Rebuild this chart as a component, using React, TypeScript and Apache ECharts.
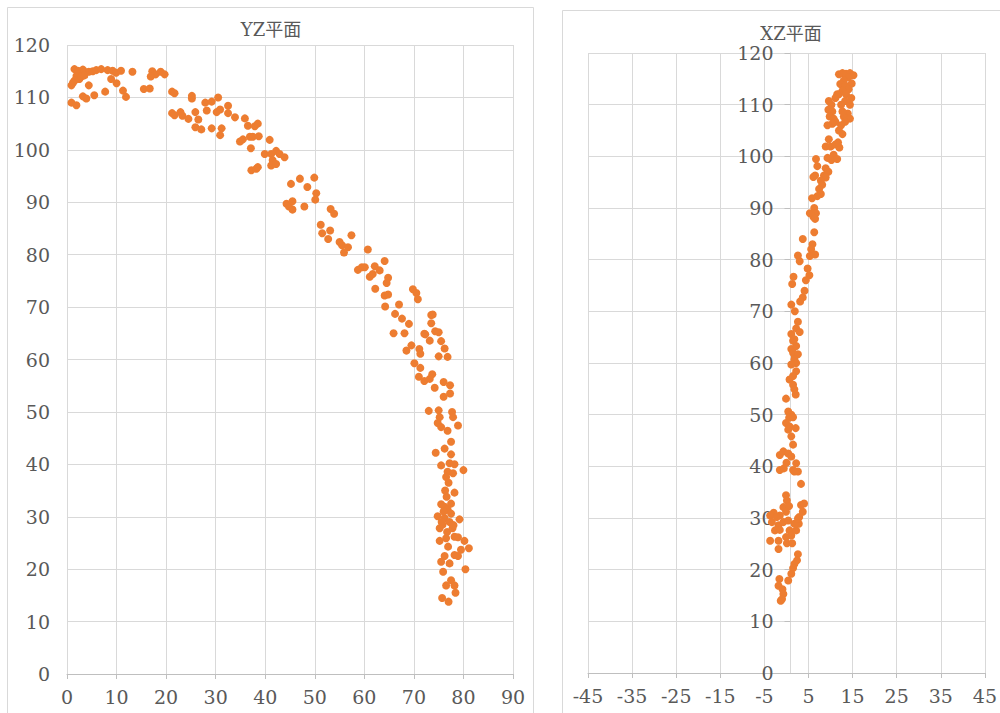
import React, { useEffect, useRef } from "react";
import * as echarts from "echarts";

const leftTitle = "YZ平面";
const rightTitle = "XZ平面";

// YZ plane points: [Y, Z]
const yzPoints: [number, number][] = [
  [1.5,115.4],[2.2,115.1],[3.2,115.3],[3.5,114.9],[4.4,114.9],[5.2,115],[5.9,115.2],[6.9,115.4],[8.2,115.2],[9.2,115.1],[9.9,114.7],[10.9,115.1],[13.2,114.9],
  [1.9,114.1],[2.5,113.5],[1.5,113.2],[1.2,112.8],[0.9,112.3],[2.9,114],[3.5,114.2],[4.4,112.3],[8.9,113.5],[10,112.7],[7.7,111.1],[5.5,110.4],[3.2,110.2],[3.9,109.8],[0.9,109],[1.9,108.5],[11.3,111.3],[11.9,110.1],[15.5,111.6],[16.7,111.7],[17.2,115],[17.9,114.4],[16.9,114],[18.9,114.9],[19.7,114.4],
  [21.2,111.1],[21.7,110.8],[25.2,110.3],[25.2,109.8],[21.2,107],[21.7,106.6],[22.9,107.2],[23.3,106.5],[24.5,105.9],[25.9,107.2],[26.5,105.8],[25.9,104.3],[27.1,103.9],[27.9,109],[29.2,109.2],[30.5,110],[28.2,107.5],[30.2,107.2],[30.9,107.7],[32.5,108.4],[32.5,107],[33.9,106.2],[29.2,104.1],[31.2,104.1],[30.9,102.8],[35.9,106],[36.5,104.6],[37.9,104.5],[38.5,105],[34.9,101.6],[35.5,102],[36.9,102.5],[37.5,102.5],[38.7,102.6],[37.1,100.3],[40.9,101.9],[39.9,99.2],[41.2,99.2],[42.2,99.8],[42.9,99.2],[43.9,98.6],[41.5,98],[41.2,97],[42.2,97.3],[37.2,96.1],[38.2,96.4],[38.5,96.7],
  [45.2,93.5],[47,94.5],[48.5,92.9],[49.9,94.7],[50.3,91.7],[50.1,90.5],[44.3,89.7],[44.8,89.2],[45.5,88.6],[45.5,90.2],[47.9,89.2],[53.2,88.7],[53.9,87.8],[51.2,85.7],[51.5,84.1],[52.7,83],[53.1,84.6],[55,82.4],[55.5,81.8],[56.7,81.4],[55.9,80.4],[57.4,83.7],[60.7,81],[58.7,77.1],[59.5,77.6],[60.1,77.6],[62.1,77.8],[63.1,77],[64.1,78.8],[61.1,75.8],[61.7,76.3],[62.2,73.5],[64.8,75.6],[64.5,74.6],[64.1,72.2],[64.8,72.4],[64.2,70.1],[67,70.5],[69.8,73.4],[70.5,72.7],[70.8,71.5],[66.2,68.7],[67.6,67.8],[69,66.8],[65.9,65],[68.1,65],[73.5,68.5],[73.5,66.9],[72.1,64.9],[73.2,63.6],[74.3,65.4],[68.5,61.7],[69.5,62.7],[71.1,62],[71.3,61.1],
  [72.3,64.8],[73.8,68.6],[75,65.2],[75.5,63.5],[76.2,62.1],[75,60.6],[76.8,60.5],[70.1,59.3],[71.3,58.4],[71,56.7],[72.1,55.9],[73.2,56.3],[73.7,57.2],[74.2,54.6],[76,55.7],[77.3,55.1],[76,52.9],[77.3,53.5],[73,50.2],[75,50.3],[77.7,50],[77.9,49],[75.2,49],[74.8,47.9],[75.5,47.1],[76.8,46.4],[78.9,47.4],[77.5,44.3],[76.2,43],[77.5,41.9],[74.4,42.2],[75.5,39.8],[77.2,40.2],[78.2,40],[76.8,38.6],[76.5,37.6],[77.9,38.3],[80,38.9],[77,36.5],[78.2,34.6],[76.6,33.8],[75.5,32.4],[76.2,31.9],[76.8,31.4],[77.5,30.6],[74.8,30.1],[76.2,29.7],[77.2,29],[79.2,29.5],[75.2,27.8],[76.7,27.1],[77.8,27.8],[78.2,26.2],[76.5,25.9],[75.2,25.4],[78.9,26.1],[80.2,25.4],[81.1,24],[79.5,23.7],[78.9,22.5],[78.2,22.7],[77.2,21.1],[76.2,22.5],[75.5,21.4],[80.4,20],[75.9,19.5],[77.5,17.9],[78.2,16.9],[76.5,16.9],[78.4,15.5],[75.7,14.5],[77,13.8],
  [76,31],[75.8,28.5],[77.5,32.5],[76.3,35],[75.6,29],[78,28.4],[76.9,24.3]
];

// XZ plane points: [X, Z]
const xzPoints: [number, number][] = [
  [11.9,115.9],[12.7,116.1],[13.5,116],[14.4,116.1],[15.2,115.7],[14.1,115.3],[13,114.7],[12.2,114],[13.3,113.7],[14.8,114.1],[14.1,113],[12.7,112.7],[11.9,112],[13.5,112],[14.7,111.3],[13.3,110.7],[14.4,110],[12.4,110],[11.5,112],[11.1,111.3],[13.9,108.3],[13,107.7],[14.4,107.3],[13.3,106.7],[12.4,106],[11.1,106.7],[11.9,105],[12.7,104.3],[12.7,108.7],
  [9.6,110.7],[10.2,110],[9.5,109],[10.4,108.7],[9.8,107.7],[10.7,107.3],[10.4,106.3],[9.3,106],[9.6,103.3],[8.9,101.9],[10,101.9],[11.1,102.3],[12,101.7],[11.7,102.7],[10.7,100.3],[10.2,99.3],[11.5,99.5],[9.3,99.7],
  [6.7,99.5],[7,98.1],[8.9,97.7],[9.5,97],[8.5,96.3],[8.9,95.9],[7.8,95.3],[6.5,96.3],[6.1,96],[8.1,94.5],[7.4,93.7],[7.8,92.7],[7,92.3],[5.8,91.9],[5.3,89],[6.3,90],[6.7,89],[6.1,88.3],[6.5,87.9],[6.3,85.3],[3.7,84],[5.9,83],[5.6,82],[6.5,81],[5.3,80.7],[2.6,80.8],[3,79.7],[4.8,78.3],[5.2,77],[4.4,76],[1.6,76.7],[1.3,75.3],[4.1,74],[3.7,72.7],[3.1,71.9],[1.1,71.3],[1.9,70],[2.6,68],[2.2,66.7],[3,66],[1.5,64.3],[1.1,62.7],[1.9,61.3],[2.2,60],
  [1.1,65.6],[1.8,64.6],[2.2,63.3],[1.5,62],[2.6,61.7],[1.8,60.7],[1.1,59.7],[2.2,58.4],[1.5,57.5],[0.7,56.8],[1.5,55.8],[1.8,54.9],[2.1,53.9],[-0.1,53.1],
  [0.4,50.6],[1.1,50],[0.6,49.4],[1.5,49.5],[-0.1,48.4],[0.7,47.7],[0.4,47.1],[2.1,47.4],[1.1,45.8],[1.5,44.2],
  [-1.5,42.2],[-0.7,42.9],[0.4,42.5],[1.1,41.9],[0,40.7],[-1.5,39.3],[-0.6,39.6],[1.5,39.3],[2.2,40.6],[2.6,39],[3.3,36.6],[1.8,39],
  [-0.1,34.4],[0.1,33.4],[-0.7,32.1],[0.6,32.3],[-0.1,31.2],[-1.5,30.5],[-2.9,31],[-3.7,30.5],[-2.2,30.2],[-3.3,29.2],[-1.8,28.6],[-0.7,29.2],[0.4,29.5],[-2.6,27.6],[-1.5,27.7],[0.7,27.6],[-0.1,26.3],[1.1,26.6],[2.2,27.6],[2.8,28.9],[2.9,30.2],[3.7,31.2],[3.3,32.5],[4,32.8],[1.8,28.9],[2.6,29.9],[-3.7,25.6],[-1.8,25.6],[-1.8,24],[0.1,25.1],[1.3,25.1],[2.6,23],[2.4,21.8],[1.8,21.1],[1.5,20.3],[1.1,19.2],[0.4,17.9],[-1.6,18.2],[-1.8,16.9],[-0.9,16.2],[-0.7,15.3],[-1.3,14],[-1,14.3]
];

const leftXRange = { min: 0, max: 90, interval: 10 };
const rightXRange = { min: -45, max: 45, interval: 10 };
const zRange = { min: 0, max: 120, interval: 10 };

const TEXT = "#595959";
const GRID = "#d9d9d9";
const AXIS = "#bfbfbf";
const DOT = "#ED7D31";
const FONT = "DejaVu Serif";
const TITLE_FONT = "DejaVu Serif, Noto Sans CJK JP";

// right grid geometry: left 588, width 405 -> x=0 sits 202.5px from the left edge
const RIGHT_LEFT = 588;
const RIGHT_RIGHT = 7;

export default function App() {
  const ref = useRef<HTMLDivElement>(null);
  useEffect(() => {
    if (!ref.current) return;
    const chart = echarts.init(ref.current, null, { renderer: "svg" });
    const label = { color: TEXT, fontFamily: FONT, fontSize: 19 };
    const rightWidth = 1000 - RIGHT_LEFT - RIGHT_RIGHT;
    const zeroOffset = -rightWidth * (0 - rightXRange.min) / (rightXRange.max - rightXRange.min);
    chart.setOption({
      animation: false,
      backgroundColor: "#ffffff",
      title: [
        { text: leftTitle, left: 266, top: 15, textAlign: "center", textStyle: { color: TEXT, fontFamily: TITLE_FONT, fontSize: 18, fontWeight: "normal" } },
        { text: rightTitle, left: 786, top: 19, textAlign: "center", textStyle: { color: TEXT, fontFamily: TITLE_FONT, fontSize: 18, fontWeight: "normal" } },
      ],
      graphic: [
        { type: "rect", shape: { x: 7.5, y: 7.5, width: 526, height: 740 }, style: { fill: "none", stroke: GRID, lineWidth: 1 }, silent: true },
        { type: "rect", shape: { x: 562.5, y: 10.5, width: 480, height: 740 }, style: { fill: "none", stroke: GRID, lineWidth: 1 }, silent: true },
      ],
      grid: [
        { left: 67, right: 487, top: 45, bottom: 39 },
        { left: RIGHT_LEFT, right: RIGHT_RIGHT, top: 53, bottom: 40 },
      ],
      xAxis: [
        {
          type: "value", gridIndex: 0, ...leftXRange,
          axisLine: { show: true, onZero: false, lineStyle: { color: AXIS } },
          axisTick: { show: true, length: 5, lineStyle: { color: AXIS } },
          axisLabel: { ...label, margin: 13 },
          splitLine: { show: true, lineStyle: { color: GRID } },
        },
        {
          type: "value", gridIndex: 1, ...rightXRange,
          axisLine: { show: true, onZero: false, lineStyle: { color: AXIS } },
          axisTick: { show: true, length: 5, lineStyle: { color: AXIS } },
          axisLabel: { ...label, margin: 13 },
          splitLine: { show: true, lineStyle: { color: GRID } },
        },
      ],
      yAxis: [
        {
          type: "value", gridIndex: 0, ...zRange,
          axisLine: { show: false, onZero: false },
          axisTick: { show: false },
          axisLabel: { ...label, margin: 17 },
          splitLine: { show: true, lineStyle: { color: GRID } },
        },
        {
          type: "value", gridIndex: 1, ...zRange,
          position: "left",
          offset: zeroOffset,
          axisLine: { show: true, onZero: false, lineStyle: { color: GRID } },
          axisTick: { show: true, length: 6, lineStyle: { color: AXIS } },
          axisLabel: { ...label, margin: 17 },
          splitLine: { show: true, lineStyle: { color: GRID } },
        },
      ],
      series: [
        { type: "scatter", xAxisIndex: 0, yAxisIndex: 0, data: yzPoints, symbol: "circle", symbolSize: 8, itemStyle: { color: DOT, opacity: 1 } },
        { type: "scatter", xAxisIndex: 1, yAxisIndex: 1, data: xzPoints, symbol: "circle", symbolSize: 8, itemStyle: { color: DOT, opacity: 1 } },
      ],
    });
    return () => chart.dispose();
  }, []);
  return <div ref={ref} style={{ position: "absolute", left: 0, top: 0, width: 1000, height: 713 }} />;
}
